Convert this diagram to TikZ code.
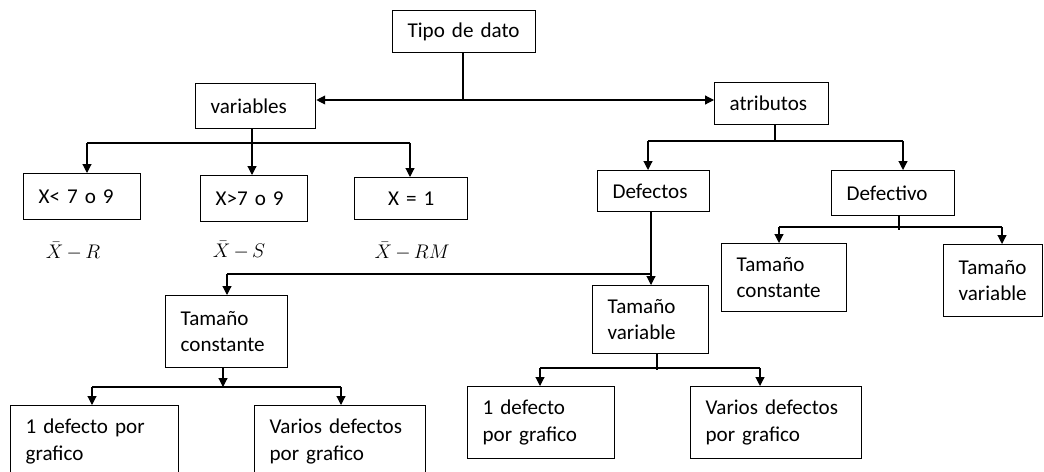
\RequirePackage{fix-cm}
\documentclass[tikz,border=0pt]{standalone}
\usepackage{fontspec}
\setmainfont{Carlito}
\usetikzlibrary{arrows.meta}

\begin{document}
\begin{tikzpicture}[x=0.025cm, y=-0.025cm,
    box/.style={draw, line width=0.9pt, anchor=north west, align=left,
      inner xsep=0.375cm, inner ysep=0pt, font=\fontsize{15}{19}\selectfont},
    formula/.style={font=\fontsize{14}{17}\selectfont},
    link/.style={line width=0.8pt},
    >={Triangle[length=0.22cm, width=0.22cm]}]

    \clip (0,0) rectangle (1044,472);
    \fill[white] (0,0) rectangle (1044,472);

    % first level
    \node[box, text width=2.825cm, minimum height=1.05cm] (tipo) at (392,10) {Tipo de dato};
    \node[box, text width=2.25cm, minimum height=1.125cm] (variables) at (195,83) {variables};
    \node[box, text width=2.1cm, minimum height=1.05cm] (atrib) at (714,82) {atributos};

    % variables
    \node[box, text width=2.175cm, minimum height=1.15cm] (xa) at (23,173) {X< 7 o 9};
    \node[box, text width=1.925cm, minimum height=1.15cm] (xb) at (200,175) {X>7 o 9};
    \node[box, text width=2.075cm, minimum height=1.05cm, align=center] (xc) at (354,177) {X = 1};

    \node[formula] (fa) at (73,251) {$\bar{X}\mskip-1mu-\mskip-1mu R$};
    \node[formula] (fb) at (239,250) {$\bar{X}\mskip-1mu-\mskip-1mu S$};
    \node[formula] (fc) at (412,251) {$\bar{X}\mskip-1mu-\mskip-1mu RM$};

    % atributos
    \node[box, text width=2.05cm, minimum height=1.025cm] (defectos) at (597,170) {Defectos};
    \node[box, text width=2.325cm, minimum height=1.125cm] (defectivo) at (831,170) {Defectivo};

    \node[box, text width=2.375cm, minimum height=1.7cm] (dtc) at (721,243) {Tamaño\\constante};
    \node[box, text width=1.725cm, minimum height=1.8cm] (dtv) at (943,244) {Tamaño\\variable};

    \node[box, text width=2.3cm, minimum height=1.8cm] (ftc) at (165,295) {Tamaño\\constante};
    \node[box, text width=2.15cm, minimum height=1.7cm] (ftv) at (592,285) {Tamaño\\variable};

    \node[box, text width=3.45cm, minimum height=1.8cm] (ca) at (10,405) {1 defecto por\\grafico};
    \node[box, text width=3.525cm, minimum height=1.8cm] (cb) at (254,405) {Varios defectos\\por grafico};
    \node[box, text width=2.925cm, minimum height=1.8cm] (va) at (467,386) {1 defecto\\por grafico};
    \node[box, text width=3.525cm, minimum height=1.8cm] (vb) at (690,386) {Varios defectos\\por grafico};

    % connectors
    \coordinate (jt) at (463,100);
    \draw[link] (tipo.south -| jt) -- (jt);
    \draw[link, ->] (jt) -- (variables.east |- jt);
    \draw[link, ->] (jt) -- (atrib.west |- jt);

    \coordinate (jva) at (87,143);
    \coordinate (jvb) at (252,143);
    \coordinate (jvc) at (410,143);
    \draw[link] (variables.south -| jvb) -- (jvb);
    \draw[link] (jva) -- (jvc);
    \draw[link, ->] (jva) -- (jva |- xa.north);
    \draw[link, ->] (jvb) -- (jvb |- xb.north);
    \draw[link, ->] (jvc) -- (jvc |- xc.north);

    \coordinate (jaa) at (648,141);
    \coordinate (jat) at (775,141);
    \coordinate (jab) at (903,141);
    \draw[link] (atrib.south -| jat) -- (jat);
    \draw[link] (jaa) -- (jab);
    \draw[link, ->] (jaa) -- (jaa |- defectos.north);
    \draw[link, ->] (jab) -- (jab |- defectivo.north);

    \coordinate (jdd) at (651,274);
    \coordinate (jdc) at (227,274);
    \draw[link, ->] (defectos.south -| jdd) -- (jdd |- ftv.north);
    \draw[link] (jdd) -- (jdc);
    \draw[link, ->] (jdc) -- (jdc |- ftc.north);

    \coordinate (jea) at (779,227);
    \coordinate (jet) at (899,230);
    \coordinate (jeb) at (1002,227);
    \draw[link] (defectivo.south -| jet) -- (jet);
    \draw[link] (jea) -- (jeb);
    \draw[link, ->] (jea) -- (jea |- dtc.north);
    \draw[link, ->] (jeb) -- (jeb |- dtv.north);

    \coordinate (jct) at (223,387);
    \coordinate (jca) at (92,387);
    \coordinate (jcb) at (341,387);
    \draw[link, ->] (ftc.south -| jct) -- (jct);
    \draw[link] (jca) -- (jcb);
    \draw[link, ->] (jca) -- (jca |- ca.north);
    \draw[link, ->] (jcb) -- (jcb |- cb.north);

    \coordinate (jft) at (657,370);
    \coordinate (jfa) at (540,368);
    \coordinate (jfb) at (760,368);
    \draw[link] (ftv.south -| jft) -- (jft);
    \draw[link] (jfa) -- (jfb);
    \draw[link, ->] (jfa) -- (jfa |- va.north);
    \draw[link, ->] (jfb) -- (jfb |- vb.north);

\end{tikzpicture}
\end{document}
